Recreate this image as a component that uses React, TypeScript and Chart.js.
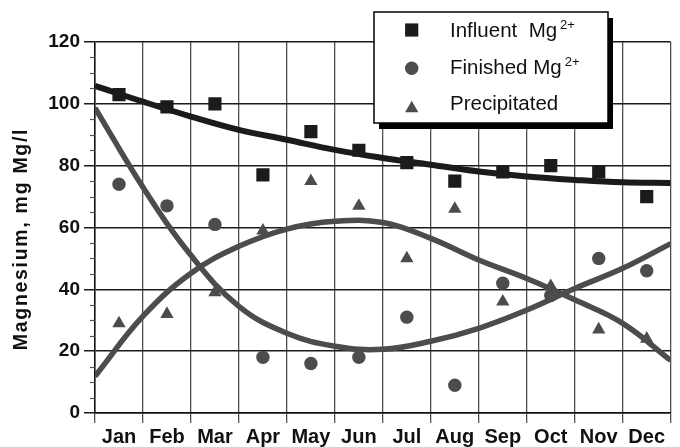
import { useEffect, useRef } from 'react';
import { Chart, registerables } from 'chart.js';

Chart.register(...registerables);

// Monthly magnesium readings (mg Mg/l)
const months = ['Jan', 'Feb', 'Mar', 'Apr', 'May', 'Jun', 'Jul', 'Aug', 'Sep', 'Oct', 'Nov', 'Dec'];
const influentMg = [103, 99, 100, 77, 91, 85, 81, 75, 78, 80, 78, 70];
const finishedMg = [74, 67, 61, 18, 16, 18, 31, 9, 42, 38, 50, 46];
const precipitatedMg = [29, 32, 39, 59, 75, 67, 50, 66, 36, 41, 27, 24];

// Fitted trend curves, sampled at the month boundaries (month index -0.5 … 11.5)
const trendPositions = [-0.5, 0.5, 1.5, 2.5, 3.5, 4.5, 5.5, 6.5, 7.5, 8.5, 9.5, 10.5, 11.5];
const influentTrend = [105.8, 100.7, 95.9, 91.6, 88.4, 85.1, 82.5, 80.3, 78.1, 76.5, 75.4, 74.6, 74.4];
const finishedTrend = [98.7, 73, 51, 34.5, 25.8, 21.6, 20.6, 23.2, 27.4, 33.3, 40.3, 46.8, 54.8];
const precipitatedTrend = [11.9, 31.3, 45.2, 53.9, 59.5, 62, 61.6, 56.5, 49.5, 43.5, 36.6, 29, 17];

// Axis settings
const yMin = 0;
const yMax = 120;
const yMajorStep = 20;
const yMinorStep = 5;
const yTitle = 'Magnesium, mg Mg/l';

// Legend entries: name, superscript
const legendNames = ['Influent  Mg', 'Finished Mg', 'Precipitated'];
const legendSups = ['2+', '2+', ''];

const FONT = '"Liberation Sans", Arial, Helvetica, sans-serif';
const DARK = '#1b1b1b';
const GREY = '#4c4c4c';

function drawMarker(ctx: CanvasRenderingContext2D, kind: string, x: number, y: number, color: string) {
  ctx.fillStyle = color;
  ctx.beginPath();
  if (kind === 'rect') {
    ctx.rect(x - 6.6, y - 6.6, 13.2, 13.2);
  } else if (kind === 'circle') {
    ctx.arc(x, y, 6.7, 0, Math.PI * 2);
  } else {
    const r = 7.7;
    ctx.moveTo(x, y - r);
    ctx.lineTo(x + r * Math.sin((2 * Math.PI) / 3), y - r * Math.cos((2 * Math.PI) / 3));
    ctx.lineTo(x + r * Math.sin((4 * Math.PI) / 3), y - r * Math.cos((4 * Math.PI) / 3));
    ctx.closePath();
  }
  ctx.fill();
}

const decorPlugin = {
  id: 'decor',
  afterDraw(chart: any) {
    const ctx: CanvasRenderingContext2D = chart.ctx;
    const yScale = chart.scales.y;
    const area = chart.chartArea;
    ctx.save();

    // minor ticks on the value axis
    ctx.strokeStyle = '#555';
    ctx.lineWidth = 1.2;
    for (let v = yMin; v <= yMax; v += yMinorStep) {
      if (v % yMajorStep === 0) continue;
      const py = Math.round(yScale.getPixelForValue(v)) + 0.5;
      ctx.beginPath();
      ctx.moveTo(area.left - 5, py);
      ctx.lineTo(area.left, py);
      ctx.stroke();
    }

    // value axis title
    ctx.save();
    ctx.translate(27, 239);
    ctx.rotate(-Math.PI / 2);
    ctx.font = `bold 19.5px ${FONT}`;
    (ctx as any).letterSpacing = '1.7px';
    ctx.fillStyle = '#111';
    ctx.textAlign = 'center';
    ctx.textBaseline = 'alphabetic';
    ctx.fillText(yTitle, 0, 0);
    ctx.restore();

    // legend box with drop shadow
    const bx = 374, by = 12, bw = 234, bh = 111;
    ctx.fillStyle = '#000';
    ctx.fillRect(bx + 5, by + 6, bw, bh);
    ctx.fillStyle = '#fff';
    ctx.fillRect(bx, by, bw, bh);
    ctx.strokeStyle = '#000';
    ctx.lineWidth = 1.5;
    ctx.strokeRect(bx, by, bw, bh);

    const kinds = ['rect', 'circle', 'triangle'];
    const colors = [DARK, GREY, GREY];
    const markerY = [30, 68.3, 108.5];
    const baseY = [37, 74, 110];
    legendNames.forEach((name, i) => {
      drawMarker(ctx, kinds[i], 411.7, markerY[i], colors[i]);
      ctx.fillStyle = '#111';
      ctx.font = `20.5px ${FONT}`;
      ctx.textAlign = 'left';
      ctx.textBaseline = 'alphabetic';
      ctx.fillText(name, 450, baseY[i]);
      if (legendSups[i]) {
        const w = ctx.measureText(name).width;
        ctx.font = `13px ${FONT}`;
        ctx.fillText(legendSups[i], 450 + w + 3, baseY[i] - 8.5);
      }
    });
    ctx.restore();
  },
};

export default function App() {
  const canvasRef = useRef<HTMLCanvasElement | null>(null);

  useEffect(() => {
    if (!canvasRef.current) return;
    const curve = (values: number[], color: string, width: number) => ({
      type: 'line' as const,
      data: trendPositions.map((x, i) => ({ x, y: values[i] })),
      xAxisID: 'xc',
      borderColor: color,
      borderWidth: width,
      pointRadius: 0,
      tension: 0.4,
      fill: false,
      order: 2,
    });
    const points = (values: number[], style: string, radius: number, color: string, label: string) => ({
      type: 'line' as const,
      label,
      data: values,
      xAxisID: 'x',
      showLine: false,
      pointStyle: style,
      pointRadius: radius,
      pointBackgroundColor: color,
      pointBorderColor: color,
      pointBorderWidth: 0,
      order: 1,
    });

    const chart = new Chart(canvasRef.current, {
      type: 'line',
      data: {
        labels: months,
        datasets: [
          points(influentMg, 'rect', 9.3, DARK, 'Influent Mg2+'),
          points(finishedMg, 'circle', 6.7, GREY, 'Finished Mg2+'),
          points(precipitatedMg, 'triangle', 7.7, GREY, 'Precipitated'),
          curve(influentTrend, DARK, 6),
          curve(finishedTrend, GREY, 5.5),
          curve(precipitatedTrend, GREY, 5.5),
        ] as any,
      },
      options: {
        animation: false,
        responsive: false,
        devicePixelRatio: 1,
        layout: { padding: { top: 42, right: 0, bottom: 0, left: 0 } },
        plugins: {
          legend: { display: false },
          tooltip: { enabled: false },
        },
        scales: {
          x: {
            type: 'category',
            offset: true,
            grid: { offset: true, color: '#505050', lineWidth: 1.3, tickLength: 10 },
            border: { color: '#111', width: 1.5 },
            ticks: {
              font: { family: FONT, size: 20, weight: 'bold' },
              color: '#111',
              padding: 2,
              maxRotation: 0,
              autoSkip: false,
            },
            afterFit: (s: any) => {
              s.height = 34;
            },
          },
          xc: {
            type: 'linear',
            display: false,
            min: -0.5,
            max: 11.5,
          },
          y: {
            min: yMin,
            max: yMax,
            ticks: {
              stepSize: yMajorStep,
              font: { family: FONT, size: 19, weight: 'bold' },
              color: '#111',
              padding: 4,
            },
            grid: { color: '#1a1a1a', lineWidth: 1.5, tickLength: 11 },
            border: { color: '#111', width: 1.5 },
            afterFit: (s: any) => {
              s.width = 95;
            },
          },
        },
      } as any,
      plugins: [decorPlugin],
    });
    return () => chart.destroy();
  }, []);

  return (
    <div style={{ position: 'absolute', left: 0, top: 0, width: 680, height: 447, background: '#fff' }}>
      <canvas ref={canvasRef} width={680} height={447} />
    </div>
  );
}
